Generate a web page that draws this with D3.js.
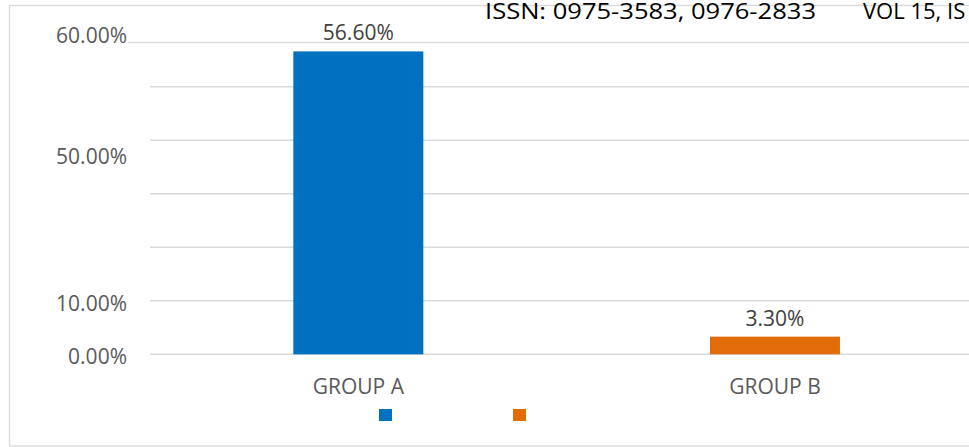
<!DOCTYPE html>
<html><head><meta charset="utf-8">
<script src="https://cdn.jsdelivr.net/npm/d3@7"></script>
<style>
body{margin:0;background:#fff;overflow:hidden;}
svg{display:block;font-family:"Open Sans",sans-serif;}
</style>
</head><body>
<svg id="c" width="969" height="447"></svg>
<script>
// ---- data ----
const categories = ["GROUP A", "GROUP B"];
const values = [56.6, 3.3];
const valueLabels = ["56.60%", "3.30%"];
const barColors = ["#0070C0", "#E36C0A"];
const gridValues = [0, 10, 20, 30, 40, 50];
const tickLabels = ["60.00%", "50.00%", "10.00%", "0.00%"];
const tickLabelValues = [60, 37.4, 10, 0];
const legendNames = ["", ""];
const headerTexts = ["ISSN: 0975-3583, 0976-2833", "VOL 15, IS"];

// ---- layout ----
const svg = d3.select("#c");
const W = 969, H = 447;
const plotLeft = 150, plotRight = 983.3;

const x = d3.scaleBand().domain(categories).range([plotLeft, plotRight])
  .paddingInner(0.688).paddingOuter(0.344);
const y = d3.scaleLinear().domain([0, 60]).range([354.3, 33.2]);

// outer border
svg.append("rect").attr("x", 9.5).attr("y", 5.5).attr("width", 1000).attr("height", 440.5)
  .attr("fill", "none").attr("stroke", "#d9d9d9").attr("stroke-width", 1.3);

// header rule
svg.append("line").attr("x1", 128).attr("x2", W).attr("y1", 42.5).attr("y2", 42.5)
  .attr("stroke", "#d9d9d9").attr("stroke-width", 1.5);

// gridlines
svg.append("g").selectAll("line").data(gridValues).join("line")
  .attr("x1", plotLeft).attr("x2", W)
  .attr("y1", d => y(d)).attr("y2", d => y(d))
  .attr("stroke", "#d9d9d9").attr("stroke-width", 1.5);

// tick labels
svg.append("g").selectAll("text").data(tickLabels).join("text")
  .attr("x", 127).attr("y", (d, i) => y(tickLabelValues[i]) + 10)
  .attr("text-anchor", "end").attr("font-size", 21).attr("fill", "#595959")
  .text(d => d);

// bars
svg.append("g").selectAll("rect").data(values).join("rect")
  .attr("x", (d, i) => x(categories[i])).attr("width", x.bandwidth())
  .attr("y", d => y(d)).attr("height", d => y(0) - y(d))
  .attr("fill", (d, i) => barColors[i]);

// value labels
svg.append("g").selectAll("text").data(values).join("text")
  .attr("x", (d, i) => x(categories[i]) + x.bandwidth() / 2)
  .attr("y", d => y(d) - 11)
  .attr("text-anchor", "middle").attr("font-size", 21).attr("fill", "#404040")
  .text((d, i) => valueLabels[i]);

// category labels
svg.append("g").selectAll("text").data(categories).join("text")
  .attr("x", d => x(d) + x.bandwidth() / 2).attr("y", 393.5)
  .attr("text-anchor", "middle").attr("font-size", 21).attr("fill", "#595959")
  .text(d => d);

// legend
const lg = svg.append("g").selectAll("g").data(legendNames).join("g")
  .attr("transform", (d, i) => `translate(${379 + i * 134},409)`);
lg.append("rect").attr("width", 13).attr("height", 12).attr("fill", (d, i) => barColors[i]);
lg.append("text").attr("x", 18).attr("y", 11).attr("font-size", 21).attr("fill", "#595959").text(d => d);

// header text
svg.append("text").attr("x", 485).attr("y", 19).attr("font-size", 22).attr("fill", "#000")
  .attr("textLength", 331).attr("lengthAdjust", "spacingAndGlyphs").text(headerTexts[0]);
svg.append("text").attr("x", 863).attr("y", 19).attr("font-size", 22).attr("fill", "#000")
  .text(headerTexts[1]);
</script>
</body></html>
